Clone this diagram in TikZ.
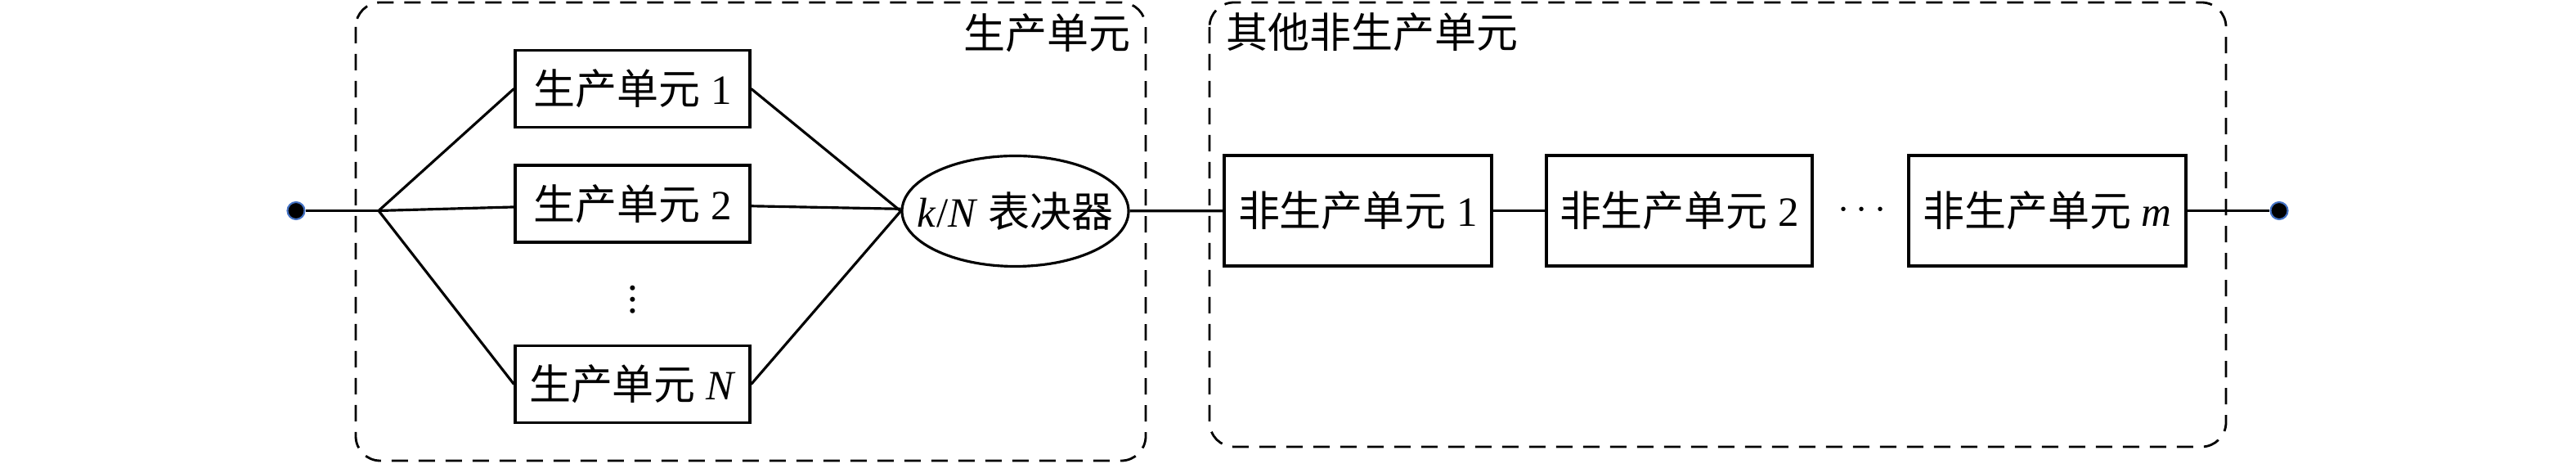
\documentclass[tikz,border=0pt]{standalone}
\usepackage{fontspec}
\setmainfont{Liberation Serif}
\newfontfamily\cjk{Noto Sans CJK SC}
\usetikzlibrary{positioning, shapes.geometric}

\begin{document}
\begin{tikzpicture}[
    font=\fontsize{14.5}{17}\selectfont,
    line width=0.9pt,
    unitbox/.style={rectangle, draw, inner sep=0pt, minimum width=2.87cm, minimum height=0.94cm, align=center},
    otherbox/.style={rectangle, draw, inner sep=0pt, minimum height=1.35cm, align=center},
    voter/.style={ellipse, draw, inner xsep=-0.24cm, inner ysep=0pt, minimum width=2.77cm, minimum height=1.35cm},
    terminal/.style={circle, fill=black, draw={rgb,255:red,68;green,114;blue,196}, line width=0.6pt, inner sep=0pt, minimum size=0.21cm},
    groupbox/.style={draw, rounded corners=0.3cm, line width=0.8pt, dash pattern=on 0.2cm off 0.13cm}
]
\useasboundingbox (0,0) rectangle (31.5,-5.67);

% Group frames
\draw[groupbox] (4.35,-0.03) rectangle (14.01,-5.63);
\draw[groupbox] (14.79,-0.03) rectangle (27.22,-5.46);
\node[anchor=east, inner sep=0pt] (grpA) at (13.84,-0.40) {\cjk 生产单元};
\node[anchor=west, inner sep=0pt] (grpB) at (14.98,-0.39) {\cjk 其他非生产单元};

% Input terminal and junction
\node[terminal] (in) at (3.62,-2.575) {};
\coordinate (junc) at (4.63,-2.575);

% Production units
\node[unitbox] (p1) at (7.735,-1.085) {{\cjk 生产单元} 1};
\node[unitbox] (p2) at (7.735,-2.49) {{\cjk 生产单元} 2};
\node[unitbox] (pN) at (7.735,-4.695) {{\cjk 生产单元} \textit{N}};
\node (vdots) at (7.735,-3.56) {$\vdots$};

% Voter
\node[voter] (vote) at (12.415,-2.58) {\textit{k}/\textit{N} {\cjk 表决器}};

% Non-production units
\node[otherbox, minimum width=3.27cm] (n1) at (16.605,-2.575) {{\cjk 非生产单元} 1};
\node[otherbox, minimum width=3.25cm] (n2) at (20.535,-2.575) {{\cjk 非生产单元} 2};
\node (hdots) at (22.77,-2.575) {$\cdots$};
\node[otherbox, minimum width=3.39cm] (nm) at (25.035,-2.575) {{\cjk 非生产单元} \textit{m}};

% Output terminal
\node[terminal] (out) at (27.87,-2.575) {};

% Connections
\draw (in) -- (junc);
\draw (junc) -- (p1.west);
\draw (junc) -- (p2);
\draw (junc) -- (pN.west);
\draw (p1.east) -- (vote.west);
\draw (p2) -- (vote);
\draw (pN.east) -- (vote.west);
\draw (vote) -- (n1);
\draw (n1) -- (n2);
\draw (nm) -- (out);

\end{tikzpicture}
\end{document}
